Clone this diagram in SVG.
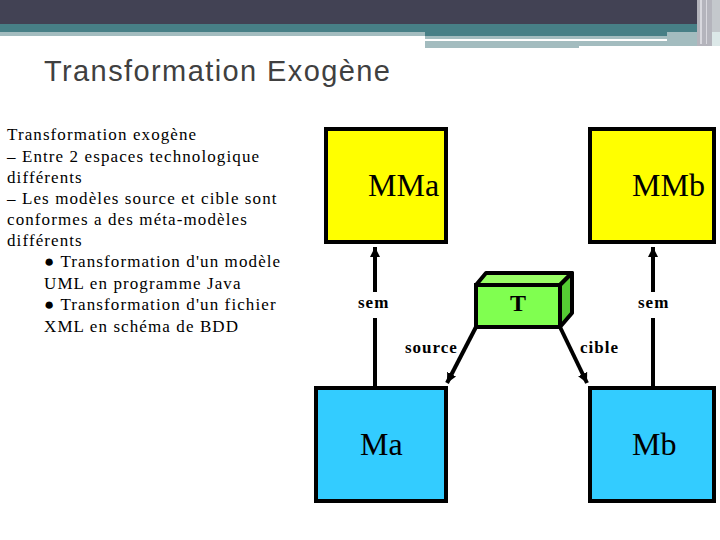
<svg xmlns="http://www.w3.org/2000/svg" width="720" height="540" viewBox="0 0 720 540">
<defs>
<style>
.txt{font-family:"Liberation Serif","Times New Roman",serif;font-size:17px;fill:#000;letter-spacing:1.1px}
.big{font-family:"Liberation Serif","Times New Roman",serif;font-size:32px;fill:#000}
.lbl{font-family:"Liberation Serif","Times New Roman",serif;font-size:17px;font-weight:bold;fill:#000;letter-spacing:1px}
.box{stroke:#000;stroke-width:4}
.conn{stroke:#000;stroke-width:4;fill:none}
</style>
<marker id="ah" markerUnits="userSpaceOnUse" markerWidth="12" markerHeight="12" refX="10" refY="6" orient="auto">
<path d="M0,1 L10,6 L0,11 Z" fill="#000"/>
</marker>
</defs>
<rect width="720" height="540" fill="#fff"/>
<g id="header">
<rect x="0" y="0" width="720" height="24" fill="#424254"/>
<rect x="0" y="24" width="720" height="8" fill="#477F86"/>
<rect x="0" y="32" width="425" height="4" fill="#A3BCBF"/>
<rect x="425" y="32" width="295" height="4" fill="#477F86"/>
<rect x="425" y="36" width="242" height="3" fill="#A3BCBF"/>
<rect x="425" y="41" width="154" height="7" fill="#A3BCBF"/>
<rect x="579" y="41" width="118" height="5" fill="#A3BCBF"/>
<rect x="667" y="32" width="30" height="14" fill="#A3BCBF"/>
<rect x="697" y="0" width="23" height="46" fill="#B4B4BC"/>
<rect x="700" y="0" width="2" height="44" fill="#D8D8DE"/>
<rect x="706" y="0" width="1" height="44" fill="#D8D8DE"/>
<rect x="712" y="0" width="8" height="46" fill="#C4C8CC"/>
<rect x="712" y="32" width="8" height="14" fill="#DCE8E8"/>
</g>
<text x="44" y="81" font-family="Liberation Sans, Arial, sans-serif" font-size="29" fill="#404040" letter-spacing="1.4">Transformation Exogène</text>
<g id="bodytext" font-family="Liberation Serif, Times New Roman, serif" font-size="17" fill="#000" letter-spacing="1.1">
<text x="7" y="140">Transformation exogène</text>
<text x="7" y="161.5">– Entre 2 espaces technologique</text>
<text x="7" y="183">différents</text>
<text x="7" y="204">– Les modèles source et cible sont</text>
<text x="7" y="225">conformes a des méta-modèles</text>
<text x="7" y="246">différents</text>
<text x="44" y="267">● Transformation d'un modèle</text>
<text x="44" y="288.5">UML en programme Java</text>
<text x="44" y="310">● Transformation d'un fichier</text>
<text x="44" y="331.5">XML en schéma de BDD</text>
</g>
<g id="connectors">
<path class="conn" d="M375,386 V318 M375,292 V247" marker-end="url(#ah)"/>
<path class="conn" d="M653,386 V318 M653,292 V247" marker-end="url(#ah)"/>
<line class="conn" x1="476" y1="327" x2="447" y2="383" marker-end="url(#ah)"/>
<line class="conn" x1="560" y1="327" x2="587" y2="383" marker-end="url(#ah)"/>
<text x="358" y="308" class="lbl">sem</text>
<text x="638" y="308" class="lbl">sem</text>
<text x="405" y="353" class="lbl">source</text>
<text x="580" y="353" class="lbl">cible</text>
</g>
<g id="MMa">
<rect class="box" x="326" y="129" width="120" height="113" fill="#FFFF00"/>
<text x="368" y="196" class="big">MMa</text>
</g>
<g id="MMb">
<rect class="box" x="590" y="129" width="124" height="113" fill="#FFFF00"/>
<text x="632" y="196" class="big">MMb</text>
</g>
<g id="T">
<path class="box" d="M476,285 L486,273 L572,273 L560,285 Z" fill="#99FF66" stroke-linejoin="round"/>
<path class="box" d="M560,285 L572,273 L572,313 L560,327 Z" fill="#55CC33" stroke-linejoin="round"/>
<rect class="box" x="476" y="285" width="84" height="42" fill="#80FF50"/>
<text x="518" y="311" font-family="Liberation Serif, Times New Roman, serif" font-size="24" font-weight="bold" text-anchor="middle">T</text>
</g>
<g id="Ma">
<rect class="box" x="316" y="388" width="130" height="113" fill="#33CCFF"/>
<text x="360" y="455" class="big">Ma</text>
</g>
<g id="Mb">
<rect class="box" x="590" y="388" width="124" height="113" fill="#33CCFF"/>
<text x="632" y="455" class="big">Mb</text>
</g>
</svg>
